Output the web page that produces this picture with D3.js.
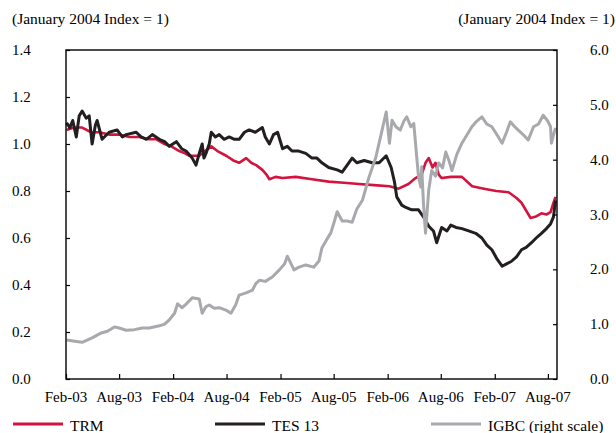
<!DOCTYPE html>
<html>
<head>
<meta charset="utf-8">
<script src="https://cdn.jsdelivr.net/npm/d3@7"></script>
<style>
  body { margin: 0; background: #fff; }
  svg { display: block; font-family: "Liberation Serif", "Times New Roman", serif; }
</style>
</head>
<body>
<svg id="chart"></svg>
<script>
// TRM (left scale)
const trmDates = ["2003-02-03","2003-02-28","2003-03-28","2003-04-28","2003-05-25","2003-06-28","2003-08-01","2003-09-05","2003-10-08","2003-11-12","2003-12-06","2004-01-03","2004-01-26","2004-02-22","2004-03-13","2004-03-26","2004-04-30","2004-05-20","2004-06-10","2004-07-01","2004-07-31","2004-08-24","2004-09-13","2004-10-07","2004-10-24","2004-11-10","2004-12-01","2004-12-15","2004-12-25","2005-01-15","2005-02-08","2005-03-25","2005-05-19","2005-07-15","2005-09-05","2005-10-26","2005-12-16","2006-02-07","2006-03-10","2006-04-13","2006-05-07","2006-05-28","2006-06-10","2006-06-21","2006-07-04","2006-07-14","2006-07-25","2006-08-04","2006-09-04","2006-10-12","2006-11-16","2006-12-26","2007-02-06","2007-03-20","2007-04-16","2007-05-03","2007-06-03","2007-06-19","2007-07-10","2007-07-27","2007-08-10","2007-08-20","2007-08-27"];
const trmValues = [1.06,1.07,1.07,1.05,1.05,1.04,1.04,1.03,1.03,1.02,1.02,1.00,0.99,0.97,0.96,0.95,0.95,0.97,0.99,0.97,0.95,0.93,0.92,0.94,0.92,0.91,0.89,0.87,0.85,0.86,0.855,0.86,0.85,0.84,0.835,0.83,0.825,0.82,0.81,0.83,0.855,0.87,0.92,0.94,0.90,0.92,0.87,0.855,0.86,0.86,0.82,0.81,0.80,0.795,0.77,0.75,0.685,0.69,0.705,0.70,0.71,0.75,0.775];

// TES 13 (left scale)
const tesDates = ["2003-02-03","2003-02-14","2003-02-24","2003-03-08","2003-03-18","2003-03-28","2003-04-11","2003-04-21","2003-05-01","2003-05-12","2003-05-18","2003-06-04","2003-06-28","2003-07-25","2003-08-12","2003-08-25","2003-09-28","2003-10-15","2003-11-02","2003-11-22","2003-12-16","2004-01-03","2004-01-19","2004-02-12","2004-03-01","2004-03-16","2004-04-06","2004-04-19","2004-04-30","2004-05-10","2004-05-16","2004-05-23","2004-06-03","2004-06-10","2004-06-24","2004-07-07","2004-07-24","2004-08-10","2004-08-28","2004-09-13","2004-10-01","2004-10-17","2004-11-07","2004-12-01","2004-12-11","2004-12-25","2005-01-08","2005-01-22","2005-02-08","2005-02-24","2005-03-12","2005-04-04","2005-04-28","2005-05-19","2005-06-05","2005-06-22","2005-07-15","2005-08-13","2005-08-30","2005-09-16","2005-10-03","2005-10-19","2005-11-13","2005-12-10","2006-01-03","2006-01-27","2006-02-13","2006-02-24","2006-03-04","2006-03-21","2006-04-04","2006-04-24","2006-05-17","2006-06-03","2006-06-21","2006-07-07","2006-07-18","2006-08-04","2006-08-22","2006-09-04","2006-09-22","2006-10-12","2006-11-04","2006-11-28","2006-12-19","2007-01-05","2007-01-22","2007-02-09","2007-02-26","2007-03-13","2007-03-29","2007-04-16","2007-05-03","2007-05-19","2007-06-06","2007-06-22","2007-07-10","2007-07-27","2007-08-10","2007-08-20","2007-08-27"];
const tesValues = [1.09,1.07,1.10,1.03,1.12,1.14,1.11,1.12,1.00,1.08,1.10,1.02,1.05,1.06,1.03,1.04,1.05,1.03,1.02,1.04,1.02,1.01,0.99,1.01,0.98,0.97,0.94,0.91,0.96,1.00,0.94,0.96,1.00,1.05,1.03,1.04,1.02,1.03,1.02,1.02,1.05,1.06,1.05,1.07,1.03,1.00,1.04,1.05,0.98,0.99,0.97,0.97,0.96,0.94,0.94,0.92,0.90,0.89,0.88,0.91,0.94,0.92,0.93,0.92,0.92,0.95,0.90,0.84,0.775,0.74,0.73,0.72,0.72,0.69,0.65,0.63,0.58,0.645,0.63,0.655,0.645,0.64,0.63,0.62,0.60,0.57,0.55,0.51,0.48,0.49,0.50,0.52,0.55,0.56,0.58,0.60,0.62,0.64,0.66,0.69,0.76];

// IGBC (right scale)
const igbcDates = ["2003-02-03","2003-03-03","2003-03-28","2003-05-01","2003-06-01","2003-06-22","2003-07-16","2003-08-01","2003-08-25","2003-09-22","2003-10-19","2003-11-12","2003-12-16","2004-01-03","2004-01-19","2004-02-06","2004-02-16","2004-03-03","2004-03-19","2004-04-06","2004-04-30","2004-05-10","2004-05-23","2004-06-03","2004-06-20","2004-07-07","2004-08-01","2004-08-16","2004-09-01","2004-09-13","2004-10-07","2004-10-28","2004-11-10","2004-11-21","2004-12-11","2005-01-04","2005-01-28","2005-02-15","2005-02-24","2005-03-09","2005-03-19","2005-04-05","2005-04-28","2005-05-25","2005-06-12","2005-06-22","2005-07-09","2005-07-22","2005-08-02","2005-08-13","2005-08-30","2005-09-16","2005-10-03","2005-10-19","2005-11-07","2005-11-30","2005-12-23","2006-01-13","2006-01-27","2006-02-07","2006-02-16","2006-03-01","2006-03-16","2006-03-28","2006-04-07","2006-04-21","2006-05-01","2006-05-11","2006-05-17","2006-05-25","2006-05-28","2006-06-03","2006-06-10","2006-06-21","2006-07-01","2006-07-14","2006-07-25","2006-08-07","2006-08-18","2006-08-28","2006-09-08","2006-09-25","2006-10-12","2006-10-29","2006-11-15","2006-12-01","2006-12-19","2007-01-05","2007-01-22","2007-02-09","2007-02-26","2007-03-13","2007-03-26","2007-04-10","2007-04-22","2007-05-10","2007-05-26","2007-06-13","2007-06-30","2007-07-16","2007-08-01","2007-08-10","2007-08-13","2007-08-20","2007-08-27"];
const igbcValues = [0.71,0.69,0.67,0.75,0.84,0.87,0.95,0.93,0.89,0.90,0.93,0.93,0.97,1.00,1.08,1.20,1.37,1.30,1.38,1.48,1.46,1.20,1.32,1.35,1.29,1.30,1.25,1.20,1.35,1.53,1.57,1.62,1.75,1.80,1.78,1.86,1.99,2.10,2.24,2.10,1.99,2.04,2.08,2.04,2.15,2.39,2.55,2.66,2.85,3.05,2.88,2.88,2.86,3.10,3.26,3.69,4.05,4.54,4.87,4.30,4.72,4.60,4.54,4.70,4.78,4.60,4.66,4.05,3.70,3.50,3.87,3.20,2.66,3.45,3.80,3.70,3.94,3.85,4.14,4.00,3.80,4.10,4.30,4.45,4.60,4.70,4.78,4.65,4.60,4.45,4.30,4.50,4.69,4.60,4.54,4.45,4.36,4.60,4.65,4.81,4.70,4.60,4.30,4.45,4.58];

const leftTicks = [0, 0.2, 0.4, 0.6, 0.8, 1.0, 1.2, 1.4];
const rightTicks = [0, 1, 2, 3, 4, 5, 6];
const tickDates = ["2003-02-01","2003-08-01","2004-02-01","2004-08-01","2005-02-01","2005-08-01","2006-02-01","2006-08-01","2007-02-01","2007-08-01"];
const legendLabels = ["TRM", "TES 13", "IGBC (right scale)"];
const colors = ["#d2143f", "#231f20", "#a7a9ac"];

const W = 616, H = 433;
const margin = {left: 66, right: 59, top: 50, bottom: 54};
const parse = d3.timeParse("%Y-%m-%d");

const svg = d3.select("#chart").attr("width", W).attr("height", H);

const x = d3.scaleTime()
  .domain([parse("2003-02-01"), parse("2007-09-01")])
  .range([margin.left, W - margin.right]);
const yL = d3.scaleLinear().domain([0, 1.4]).range([H - margin.bottom, margin.top]);
const yR = d3.scaleLinear().domain([0, 6]).range([H - margin.bottom, margin.top]);

const plotBottom = H - margin.bottom, plotRight = W - margin.right;

// header notes
svg.append("text").attr("x", 12).attr("y", 24).attr("font-size", 15.5).text("(January 2004 Index = 1)");
svg.append("text").attr("x", 615).attr("y", 24).attr("font-size", 15.5).attr("text-anchor", "end").text("(January 2004 Index = 1)");

// lines
function zip(ds, vs) { return ds.map((d, i) => ({date: parse(d), v: vs[i]})); }
const series = [
  {data: zip(trmDates, trmValues), y: yL, width: 2.6},
  {data: zip(tesDates, tesValues), y: yL, width: 3},
  {data: zip(igbcDates, igbcValues), y: yR, width: 3}
];
series.forEach((s, i) => {
  svg.append("path")
    .datum(s.data)
    .attr("fill", "none")
    .attr("stroke", colors[i])
    .attr("stroke-width", s.width)
    .attr("stroke-linejoin", "round")
    .attr("d", d3.line().x(d => x(d.date)).y(d => s.y(d.v)));
});

// axes
const axisL = svg.append("g").attr("transform", `translate(${margin.left},0)`)
  .call(d3.axisRight(yL).tickValues(leftTicks).tickSize(4).tickFormat(""));
const axisR = svg.append("g").attr("transform", `translate(${plotRight},0)`)
  .call(d3.axisLeft(yR).tickValues(rightTicks).tickSize(4).tickFormat(""));
const axisB = svg.append("g").attr("transform", `translate(0,${plotBottom})`)
  .call(d3.axisTop(x).tickValues(tickDates.map(parse)).tickSize(5).tickFormat(""));
[axisL, axisR, axisB].forEach(g => {
  g.select(".domain").remove();
  g.selectAll("line").attr("stroke", "#000").attr("stroke-width", 1.2);
});

svg.append("rect")
  .attr("x", margin.left).attr("y", margin.top)
  .attr("width", plotRight - margin.left).attr("height", plotBottom - margin.top)
  .attr("fill", "none").attr("stroke", "#000").attr("stroke-width", 1.4);

// tick labels
svg.selectAll(".lt").data(leftTicks).enter().append("text")
  .attr("x", 12).attr("y", d => yL(d) + 5).attr("font-size", 15)
  .text(d => d.toFixed(1));
svg.selectAll(".rt").data(rightTicks).enter().append("text")
  .attr("x", 590).attr("y", d => yR(d) + 5).attr("font-size", 15)
  .text(d => d.toFixed(1));
svg.selectAll(".xt").data(tickDates).enter().append("text")
  .attr("x", d => x(parse(d))).attr("y", 402).attr("font-size", 15)
  .attr("text-anchor", "middle")
  .text(d => d3.timeFormat("%b-%y")(parse(d)));

// legend
const legendX = [13, 215, 431];
legendLabels.forEach((lab, i) => {
  svg.append("line").attr("x1", legendX[i]).attr("x2", legendX[i] + 50)
    .attr("y1", 424).attr("y2", 424)
    .attr("stroke", colors[i]).attr("stroke-width", 3);
  svg.append("text").attr("x", legendX[i] + 57).attr("y", 431)
    .attr("font-size", 15.5).text(lab);
});
</script>
</body>
</html>
